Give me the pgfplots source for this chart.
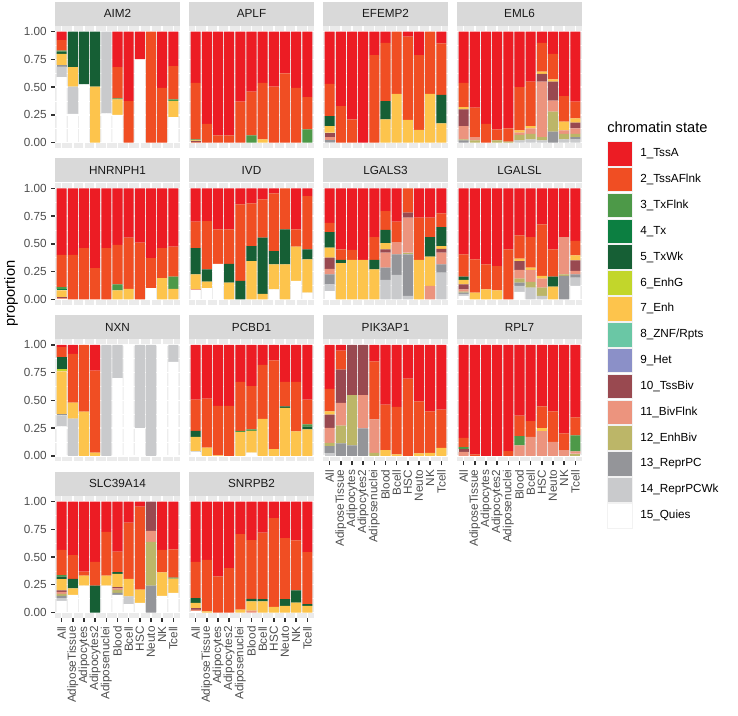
\documentclass[border=0pt]{standalone}
\usepackage{fontspec}
\setmainfont{Liberation Sans}
\usepackage{pgfplots}
\usepackage{pgfplotstable}
\pgfplotsset{compat=1.18}
\definecolor{cT}{HTML}{EC1C24}
\definecolor{cTF}{HTML}{F04E23}
\definecolor{cTxF}{HTML}{4D9948}
\definecolor{cTx}{HTML}{0C7F41}
\definecolor{cTxWk}{HTML}{165F35}
\definecolor{cEnhG}{HTML}{C2D62B}
\definecolor{cEnh}{HTML}{FDC44C}
\definecolor{cZNF}{HTML}{6AC7A5}
\definecolor{cHet}{HTML}{8B90C8}
\definecolor{cTB}{HTML}{994950}
\definecolor{cBF}{HTML}{EC947E}
\definecolor{cEB}{HTML}{BCB668}
\definecolor{cRP}{HTML}{949599}
\definecolor{cRPW}{HTML}{C9CACC}
\definecolor{cQ}{HTML}{FFFFFF}
\definecolor{panelbg}{HTML}{EBEBEB}
\definecolor{stripbg}{HTML}{D9D9D9}
\definecolor{gray30}{HTML}{4D4D4D}
\definecolor{gray20}{HTML}{333333}
\definecolor{gray10}{HTML}{1A1A1A}

% columns: x Q RPW RP EB BF TB Het ZNF Enh EnhG TxWk Tx TxF TF T
\pgfplotstableread{
x Q RPW RP EB BF TB Het ZNF Enh EnhG TxWk Tx TxF TF T
1 .59 .095 .015 0 0 0 0 0 .10 0 .02 0 .01 .095 .075
2 .26 .245 0 0 0 0 0 0 .175 0 .32 0 0 0 0
3 .525 0 0 0 0 0 0 0 0 0 .475 0 0 0 0
4 0 0 0 0 0 0 0 0 .505 0 .495 0 0 0 0
5 .265 .735 0 0 0 0 0 0 0 0 0 0 0 0 0
6 .25 0 0 0 0 0 0 0 .14 0 0 0 .01 .28 .32
7 0 0 0 0 0 0 0 0 0 0 0 0 0 .375 .625
8 .75 0 0 0 0 0 0 0 0 0 0 0 0 0 .25
9 0 0 0 0 0 0 0 0 0 0 0 0 0 1 0
10 0 0 0 0 0 0 0 0 0 0 0 0 0 .495 .505
11 .23 0 0 0 0 0 0 0 .145 0 0 0 .015 .30 .31
}\tAIM
\pgfplotstableread{
x Q RPW RP EB BF TB Het ZNF Enh EnhG TxWk Tx TxF TF T
1 0 0 0 0 .01 .005 0 0 .005 0 0 0 .01 .51 .46
2 0 0 0 0 0 0 0 0 0 0 0 0 0 .17 .83
3 0 0 0 0 0 0 0 0 0 0 0 0 0 .065 .935
4 0 0 0 0 0 0 0 0 0 0 0 0 0 .065 .935
5 0 0 0 0 0 0 0 0 0 0 0 0 0 .37 .63
6 0 0 0 0 0 0 0 0 0 0 0 0 .065 .395 .54
7 0 0 0 0 0 0 0 0 .03 0 0 0 0 .51 .46
8 0 0 0 0 0 0 0 0 0 0 0 0 0 .505 .495
9 0 0 0 0 0 0 0 0 0 0 0 0 0 .625 .375
10 0 0 0 0 0 0 0 0 0 0 0 0 0 .495 .505
11 0 0 0 0 0 0 0 0 0 0 0 0 .12 .29 .59
}\tAPLF
\pgfplotstableread{
x Q RPW RP EB BF TB Het ZNF Enh EnhG TxWk Tx TxF TF T
1 0 .01 .01 0 .03 .04 0 0 .06 0 .09 0 0 .29 .47
2 0 0 0 0 0 0 0 0 0 0 0 0 0 .33 .67
3 0 0 0 0 0 0 0 0 0 0 0 0 0 .21 .79
4 0 0 0 0 0 0 0 0 0 0 0 0 0 0 1
5 0 0 0 0 0 0 0 0 0 0 0 0 0 .79 .21
6 0 0 0 0 0 0 0 0 .21 0 .165 0 0 .525 .10
7 0 0 0 0 0 0 0 0 .44 0 0 0 0 .56 0
8 0 0 0 0 0 0 0 0 .205 0 0 0 0 .75 .045
9 0 0 0 0 0 0 0 0 .115 0 0 0 0 .675 .21
10 0 0 0 0 0 0 0 0 .44 0 0 0 0 .56 0
11 0 0 0 0 0 0 0 0 .175 0 .255 0 0 .465 .105
}\tEFEMP
\pgfplotstableread{
x Q RPW RP EB BF TB Het ZNF Enh EnhG TxWk Tx TxF TF T
1 0 0 .02 .01 .12 .15 0 0 .02 0 0 0 0 .22 .46
2 0 0 0 .02 .03 0 0 0 0 0 0 0 0 .265 .685
3 0 0 0 0 0 0 0 0 0 0 0 0 0 .17 .83
4 0 0 0 .02 0 0 0 0 0 0 0 0 0 .10 .88
5 0 0 0 .01 0 0 0 0 0 0 0 0 0 .12 .87
6 0 .02 0 .05 .02 0 0 0 .02 0 0 0 0 .39 .50
7 0 .03 0 .05 .05 0 0 0 .02 0 0 0 0 .40 .45
8 0 .02 0 .03 .50 .07 0 0 .02 0 0 0 0 .26 .10
9 0 0 .10 .18 .10 .17 0 0 .02 0 0 0 0 .23 .20
10 0 .03 0 .05 .03 0 0 0 .08 0 0 0 0 .23 .58
11 0 .03 .02 .03 .05 .05 0 0 .04 0 0 0 0 .15 .63
}\tEML
\pgfplotstableread{
x Q RPW RP EB BF TB Het ZNF Enh EnhG TxWk Tx TxF TF T
1 0 0 0 0 .01 .01 0 0 .06 0 0 .01 .02 .29 .60
2 0 0 0 0 0 0 0 0 0 0 0 0 0 .40 .60
3 0 0 0 0 0 0 0 0 0 0 0 0 0 .46 .54
4 0 0 0 0 0 0 0 0 0 0 0 0 0 .28 .72
5 0 0 0 0 0 0 0 0 0 0 0 0 0 .46 .54
6 0 0 0 0 0 0 0 0 .08 0 0 0 .055 .355 .51
7 0 0 0 0 0 0 0 0 .095 0 0 0 0 .46 .445
8 0 0 0 0 0 0 0 0 0 0 0 0 0 .51 .49
9 .10 0 0 0 0 0 0 0 0 0 0 0 0 .27 .63
10 0 0 0 0 0 0 0 0 .19 0 0 0 0 .27 .54
11 0 0 0 0 0 0 0 0 .095 0 0 0 .11 .27 .525
}\tHNRN
\pgfplotstableread{
x Q RPW RP EB BF TB Het ZNF Enh EnhG TxWk Tx TxF TF T
1 .085 0 0 0 .005 0 0 0 .135 0 .235 0 0 .24 .30
2 .10 0 0 0 0 0 0 0 .06 0 .11 0 0 .435 .295
3 .32 0 0 0 0 0 0 0 0 0 0 0 0 .31 .37
4 0 0 0 0 0 0 0 0 .15 0 .17 0 0 .31 .37
5 0 0 0 0 0 0 0 0 0 0 .165 0 0 .69 .145
6 0 0 0 0 0 0 0 0 .345 0 .135 0 0 .385 .135
7 0 0 0 0 0 0 0 0 .05 0 .505 0 0 .345 .10
8 .09 0 0 0 0 0 0 0 .225 0 .12 0 0 .52 .045
9 0 0 0 0 0 0 0 0 .315 0 .315 0 0 .37 0
10 .165 0 0 0 0 0 0 0 .31 0 0 0 0 .155 .37
11 .06 0 0 0 0 0 0 0 .30 0 .09 0 0 .48 .07
}\tIVD
\pgfplotstableread{
x Q RPW RP EB BF TB Het ZNF Enh EnhG TxWk Tx TxF TF T
1 .075 .06 .09 0 .05 .10 0 0 .09 0 .14 0 0 .083 .312
2 0 0 0 0 0 0 0 0 .325 0 .03 0 0 .095 .55
3 0 0 0 0 0 0 0 0 .355 0 0 0 0 .09 .555
4 0 0 0 0 0 0 0 0 .355 0 0 0 0 0 .645
5 0 0 0 0 0 0 0 0 .27 0 .085 0 0 .205 .44
6 0 .175 .11 0 .135 .03 0 0 .055 0 .12 0 0 .17 .205
7 0 .22 .185 0 .11 0 0 0 0 0 0 0 0 .185 .30
8 0 .03 .375 .015 .315 .045 0 0 0 0 0 0 0 .22 0
9 0 0 0 0 0 0 0 0 .355 0 0 0 0 .38 .265
10 0 0 0 0 .12 0 0 0 .265 0 .175 0 0 .175 .265
11 0 .24 .075 0 .105 .035 0 0 .025 0 .17 0 0 .125 .225
}\tLGALSthree
\pgfplotstableread{
x Q RPW RP EB BF TB Het ZNF Enh EnhG TxWk Tx TxF TF T
1 .03 .02 .01 .01 .02 .045 0 0 .04 0 .03 0 0 .20 .595
2 0 0 0 0 0 0 0 0 .06 0 0 0 0 .30 .64
3 0 0 0 0 0 0 0 0 .09 0 0 0 0 .225 .685
4 0 0 0 0 0 0 0 0 .08 0 0 0 0 .22 .70
5 0 0 0 0 0 0 0 0 0 0 0 0 0 .45 .55
6 .066 .054 .03 .036 .078 .081 0 0 .021 0 0 0 0 .211 .423
7 0 .105 0 .051 .108 0 0 0 .021 0 0 0 0 .275 .44
8 0 .03 0 .075 .081 0 0 0 .024 0 0 0 0 .465 .325
9 0 0 0 0 0 0 0 0 .114 0 .09 0 0 .246 .55
10 0 0 .21 .015 .335 0 0 0 0 0 0 0 0 0 .44
11 .12 .075 .03 0 .03 .096 0 0 .045 0 0 0 0 .13 .474
}\tLGALSL
\pgfplotstableread{
x Q RPW RP EB BF TB Het ZNF Enh EnhG TxWk Tx TxF TF T
1 .265 .10 .01 0 0 0 0 0 .387 .02 .105 0 0 .092 .021
2 0 .335 0 0 0 0 0 0 .145 0 0 0 0 .44 .08
3 0 0 0 0 0 0 0 0 .40 0 0 0 0 .60 0
4 0 0 0 0 0 0 0 0 .03 0 0 0 0 .738 .232
5 0 1 0 0 0 0 0 0 0 0 0 0 0 0 0
6 .70 .30 0 0 0 0 0 0 0 0 0 0 0 0 0
7 1 0 0 0 0 0 0 0 0 0 0 0 0 0 0
8 .25 .75 0 0 0 0 0 0 0 0 0 0 0 0 0
9 0 1 0 0 0 0 0 0 0 0 0 0 0 0 0
10 1 0 0 0 0 0 0 0 0 0 0 0 0 0 0
11 .846 .154 0 0 0 0 0 0 0 0 0 0 0 0 0
}\tNXN
\pgfplotstableread{
x Q RPW RP EB BF TB Het ZNF Enh EnhG TxWk Tx TxF TF T
1 .04 0 .005 0 0 0 0 0 .126 0 .054 0 0 .283 .492
2 0 0 0 0 0 0 0 0 .075 0 0 0 0 .442 .483
3 0 0 0 0 0 0 0 0 .005 0 0 0 0 .445 .55
4 0 0 0 0 0 0 0 0 0 0 0 0 0 .45 .55
5 0 0 0 0 0 0 0 0 .215 0 0 0 .01 .442 .333
6 .03 0 0 0 0 0 0 0 .195 0 0 0 .015 .388 .372
7 0 0 0 0 0 0 0 0 .333 0 0 0 0 .487 .18
8 0 0 0 0 0 0 0 0 .06 0 0 0 0 .80 .14
9 0 0 0 0 0 0 0 0 .432 0 .015 0 0 .22 .333
10 0 0 0 0 0 0 0 0 .22 0 0 0 0 .447 .333
11 0 0 0 0 0 0 0 0 .238 0 .025 0 .02 .225 .492
}\tPCBD
\pgfplotstableread{
x Q RPW RP EB BF TB Het ZNF Enh EnhG TxWk Tx TxF TF T
1 0 .028 .06 .03 .135 .119 0 0 .03 0 0 0 0 .202 .396
2 0 0 .112 .161 .204 .30 0 0 0 0 0 0 0 .171 .052
3 0 0 .094 .453 0 .453 0 0 0 0 0 0 0 0 0
4 0 0 .247 0 .30 .453 0 0 0 0 0 0 0 0 0
5 0 0 0 .028 .30 0 0 0 0 0 0 0 0 .524 .148
6 0 0 0 0 0 0 0 0 .052 0 0 0 0 .41 .538
7 0 0 0 0 0 0 0 0 .013 0 0 0 0 .428 .559
8 0 0 0 0 0 0 0 0 0 0 0 0 0 .697 .303
9 0 0 0 0 0 0 0 0 .022 0 0 0 0 .47 .508
10 0 0 0 0 0 0 0 0 .028 0 0 0 0 .374 .598
11 0 0 0 0 0 0 0 0 .073 0 0 0 0 .344 .583
}\tPIK
\pgfplotstableread{
x Q RPW RP EB BF TB Het ZNF Enh EnhG TxWk Tx TxF TF T
1 0 0 0 0 .037 .027 0 0 0 0 0 0 .015 .084 .837
2 0 0 0 0 0 0 0 0 0 0 0 0 0 .013 .987
3 0 0 0 0 0 0 0 0 0 0 0 0 0 0 1
4 0 0 0 0 0 0 0 0 0 0 0 0 0 0 1
5 0 0 0 0 0 0 0 0 0 0 0 0 0 .043 .957
6 0 0 0 0 .094 0 0 0 0 0 0 0 .084 .185 .637
7 0 0 0 0 .172 0 0 0 0 0 0 0 0 .141 .687
8 0 0 0 0 .223 0 0 0 .03 0 0 0 0 .194 .553
9 0 0 0 0 .127 0 0 0 0 0 0 0 0 .275 .598
10 0 0 0 0 .052 0 0 0 0 0 0 0 0 .15 .798
11 0 0 0 .02 .02 0 0 0 0 0 0 0 .144 .164 .652
}\tRPL
\pgfplotstableread{
x Q RPW RP EB BF TB Het ZNF Enh EnhG TxWk Tx TxF TF T
1 .105 .025 .02 .017 .02 .013 0 0 .10 0 .024 0 .012 .229 .435
2 .158 0 0 0 0 0 0 0 .06 0 .084 0 0 .215 .483
3 .242 0 0 0 0 0 0 0 .09 0 0 0 0 .036 .632
4 0 0 0 0 0 0 0 0 0 0 .242 0 0 .215 .543
5 .242 0 0 0 0 0 0 0 .09 0 0 0 0 .394 .274
6 .158 0 .02 .025 .015 .01 0 0 .12 0 .015 0 0 .185 .452
7 .075 .071 0 0 0 0 0 0 .156 0 0 0 0 .508 .19
8 .087 0 0 0 0 0 0 0 .12 0 0 0 0 .748 .045
9 0 0 .242 .395 .098 .265 0 0 0 0 0 0 0 0 0
10 .15 0 0 0 0 0 0 0 .212 0 0 0 0 .203 .435
11 .176 0 0 0 0 0 0 0 .13 0 0 0 .008 .254 .432
}\tSLC
\pgfplotstableread{
x Q RPW RP EB BF TB Het ZNF Enh EnhG TxWk Tx TxF TF T
1 .015 0 0 0 .012 .012 0 0 .048 0 .042 0 0 .328 .543
2 0 0 0 0 0 0 0 0 .01 0 0 0 0 .465 .525
3 0 0 0 0 0 0 0 0 0 0 0 0 0 .326 .674
4 0 0 0 0 0 0 0 0 0 0 0 0 0 .40 .60
5 0 0 0 0 0 0 0 0 .027 0 0 0 0 .679 .294
6 0 0 0 0 .018 0 0 0 .082 0 .023 0 0 .529 .348
7 0 0 0 0 0 0 0 0 .10 0 .02 0 0 .60 .28
8 0 0 0 0 0 0 0 0 .05 0 0 0 0 .80 .15
9 0 0 0 0 0 0 0 0 .06 0 .06 0 0 .55 .33
10 0 0 0 0 0 0 0 0 .09 0 .11 0 0 .45 .35
11 0 0 0 0 0 0 0 0 .06 0 .015 0 0 .47 .455
}\tSNRPB

\newcommand{\stackbars}[1]{%
\addplot[fill=cQ,draw=none] table[x=x,y=Q]{#1};
\addplot[fill=cRPW,draw=none] table[x=x,y=RPW]{#1};
\addplot[fill=cRP,draw=none] table[x=x,y=RP]{#1};
\addplot[fill=cEB,draw=none] table[x=x,y=EB]{#1};
\addplot[fill=cBF,draw=none] table[x=x,y=BF]{#1};
\addplot[fill=cTB,draw=none] table[x=x,y=TB]{#1};
\addplot[fill=cHet,draw=none] table[x=x,y=Het]{#1};
\addplot[fill=cZNF,draw=none] table[x=x,y=ZNF]{#1};
\addplot[fill=cEnh,draw=none] table[x=x,y=Enh]{#1};
\addplot[fill=cEnhG,draw=none] table[x=x,y=EnhG]{#1};
\addplot[fill=cTxWk,draw=none] table[x=x,y=TxWk]{#1};
\addplot[fill=cTx,draw=none] table[x=x,y=Tx]{#1};
\addplot[fill=cTxF,draw=none] table[x=x,y=TxF]{#1};
\addplot[fill=cTF,draw=none] table[x=x,y=TF]{#1};
\addplot[fill=cT,draw=none] table[x=x,y=T]{#1};
}

\pgfplotsset{
 panel/.style={
  scale only axis, width=93.75pt, height=91.575pt,
  anchor=south west,
  xmin=0.4, xmax=11.6, ymin=-0.05, ymax=1.05,
  ybar stacked, bar width=0.9,
  axis background/.style={fill=panelbg},
  axis line style={draw=none},
  xtick={1,...,11}, ytick={0,0.25,0.5,0.75,1},
  minor ytick={0.125,0.375,0.625,0.875},
  xmajorgrids=true, ymajorgrids=true, yminorgrids=true,
  major grid style={draw=white, line width=1.07pt},
  minor grid style={draw=white, line width=0.53pt},
  xticklabels={}, yticklabels={},
  tick pos=left, tick align=outside,
  major tick length=2.75pt, minor tick length=0pt,
  xtick style={draw=none}, ytick style={draw=none},
  ticklabel style={font=\fontsize{8.8}{10}\selectfont, text=gray30},
  every axis title/.style={at={(0.5,1)}, anchor=south, fill=stripbg,
    minimum width=93.75pt, minimum height=18pt, inner sep=0pt,
    text=gray10, font=\fontsize{8.8}{10}\selectfont},
 },
 ylab/.style={yticklabels={0.00,0.25,0.50,0.75,1.00},
   ytick style={draw=gray20, line width=1.07pt}},
 xlab/.style={xticklabels={All,AdiposeTissue,Adipocytes,Adipocytes2,Adiposenuclei,Blood,Bcell,HSC,Neuto,NK,Tcell},
   xtick style={draw=gray20, line width=1.07pt},
   xticklabel style={rotate=90, anchor=east}},
}

\begin{document}
\begin{tikzpicture}
\useasboundingbox (0,0) rectangle (553.5pt,536.25pt);
% row 1
\begin{axis}[panel, ylab, at={(41.25pt,425.06pt)}, title={AIM2}]
\stackbars{\tAIM}
\end{axis}
\begin{axis}[panel, at={(141.75pt,425.06pt)}, title={APLF}]
\stackbars{\tAPLF}
\end{axis}
\begin{axis}[panel, at={(242.25pt,425.06pt)}, title={EFEMP2}]
\stackbars{\tEFEMP}
\end{axis}
\begin{axis}[panel, at={(342.75pt,425.06pt)}, title={EML6}]
\stackbars{\tEML}
\end{axis}
% row 2
\begin{axis}[panel, ylab, at={(41.25pt,307.61pt)}, title={HNRNPH1}]
\stackbars{\tHNRN}
\end{axis}
\begin{axis}[panel, at={(141.75pt,307.61pt)}, title={IVD}]
\stackbars{\tIVD}
\end{axis}
\begin{axis}[panel, at={(242.25pt,307.61pt)}, title={LGALS3}]
\stackbars{\tLGALSthree}
\end{axis}
\begin{axis}[panel, at={(342.75pt,307.61pt)}, title={LGALSL}]
\stackbars{\tLGALSL}
\end{axis}
% row 3
\begin{axis}[panel, ylab, at={(41.25pt,190.16pt)}, title={NXN}]
\stackbars{\tNXN}
\end{axis}
\begin{axis}[panel, at={(141.75pt,190.16pt)}, title={PCBD1}]
\stackbars{\tPCBD}
\end{axis}
\begin{axis}[panel, xlab, at={(242.25pt,190.16pt)}, title={PIK3AP1}]
\stackbars{\tPIK}
\end{axis}
\begin{axis}[panel, xlab, at={(342.75pt,190.16pt)}, title={RPL7}]
\stackbars{\tRPL}
\end{axis}
% row 4
\begin{axis}[panel, ylab, xlab, at={(41.25pt,72.71pt)}, title={SLC39A14}]
\stackbars{\tSLC}
\end{axis}
\begin{axis}[panel, xlab, at={(141.75pt,72.71pt)}, title={SNRPB2}]
\stackbars{\tSNRPB}
\end{axis}
% y axis title
\node[rotate=90, font=\fontsize{11}{13}\selectfont, inner sep=0pt] at (8.25pt,316.1pt) {proportion};
% legend
\node[anchor=base west, font=\fontsize{11}{13}\selectfont, inner sep=0pt] at (455.25pt,436.5pt) {chromatin state};
\foreach \c/\n [count=\i] in {cT/{1\_TssA}, cTF/{2\_TssAFlnk}, cTxF/{3\_TxFlnk}, cTx/{4\_Tx}, cTxWk/{5\_TxWk}, cEnhG/{6\_EnhG}, cEnh/{7\_Enh}, cZNF/{8\_ZNF/Rpts}, cHet/{9\_Het}, cTB/{10\_TssBiv}, cBF/{11\_BivFlnk}, cEB/{12\_EnhBiv}, cRP/{13\_ReprPC}, cRPW/{14\_ReprPCWk}, cQ/{15\_Quies}} {
  \pgfmathsetmacro\yy{0.75*(573.5-25.85*(\i-1))}
  \fill[\c, draw=black!5, line width=0.6pt] (455.25pt,\yy pt) rectangle ++(18.75pt,-18.4pt);
  \node[anchor=west, inner sep=0pt, font=\fontsize{8.8}{10}\selectfont] at (480pt,\yy pt-9.2pt) {\n};
}
\end{tikzpicture}
\end{document}
